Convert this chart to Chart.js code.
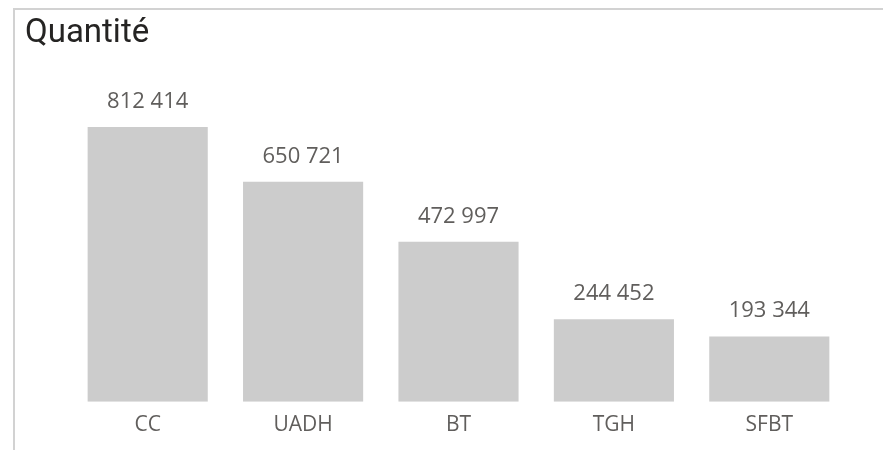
<!DOCTYPE html>
<html>
<head>
<meta charset="utf-8">
<script src="https://cdn.jsdelivr.net/npm/chart.js@4"></script>
<style>
    html, body { margin: 0; padding: 0; background: #fff; }
    #wrap { position: relative; width: 883px; height: 450px; overflow: hidden; }
    #frame {
        position: absolute; left: 13px; top: 8px; right: -4px; bottom: -4px;
        border-top: 2px solid #d2d2d2; border-left: 2px solid #d2d2d2;
    }
    canvas { position: absolute; left: 0; top: 0; }
</style>
</head>
<body>
<div id="wrap">
    <div id="frame"></div>
    <canvas id="chart" width="883" height="450"></canvas>
</div>
<script>
const categories = ['CC', 'UADH', 'BT', 'TGH', 'SFBT'];
const quantites = [812414, 650721, 472997, 244452, 193344];

const textColor = '#605e5c';
const barColor = '#cccccc';

// "812 414"
function fmt(v) {
    return String(v).replace(/\B(?=(\d{3})+(?!\d))/g, ' ');
}

// étiquettes de valeurs au-dessus des barres
const valueLabels = {
    id: 'valueLabels',
    afterDatasetsDraw(chart) {
        const ctx = chart.ctx;
        const meta = chart.getDatasetMeta(0);
        ctx.save();
        ctx.font = '22px "Open Sans"';
        ctx.fillStyle = textColor;
        ctx.textAlign = 'center';
        ctx.textBaseline = 'alphabetic';
        meta.data.forEach((bar, i) => {
            ctx.fillText(fmt(quantites[i]), bar.x, bar.y - 19);
        });
        ctx.restore();
    }
};

new Chart(document.getElementById('chart'), {
    type: 'bar',
    data: {
        labels: categories,
        datasets: [{
            label: 'Quantité',
            data: quantites,
            backgroundColor: barColor,
            borderWidth: 0,
            barPercentage: 0.773,
            categoryPercentage: 1,
        }]
    },
    options: {
        responsive: false,
        animation: false,
        layout: {
            padding: { left: 25, right: 36, top: 14, bottom: 1 }
        },
        scales: {
            x: {
                grid: { display: false, drawTicks: false },
                border: { display: false },
                ticks: {
                    color: textColor,
                    padding: 11,
                    font: { family: '"Open Sans"', size: 21 }
                }
            },
            y: {
                min: 0,
                max: 1000000,
                grid: { display: false, drawTicks: false },
                border: { display: false },
                ticks: { display: false },
                afterFit: (scale) => { scale.width = 45; }
            }
        },
        plugins: {
            legend: { display: false },
            tooltip: { enabled: false },
            title: {
                display: true,
                text: 'Quantité',
                align: 'start',
                color: '#252423',
                padding: { top: 0, bottom: 10 },
                font: { family: 'Roboto', size: 33, weight: 'normal' }
            }
        }
    },
    plugins: [valueLabels]
});
</script>
</body>
</html>
